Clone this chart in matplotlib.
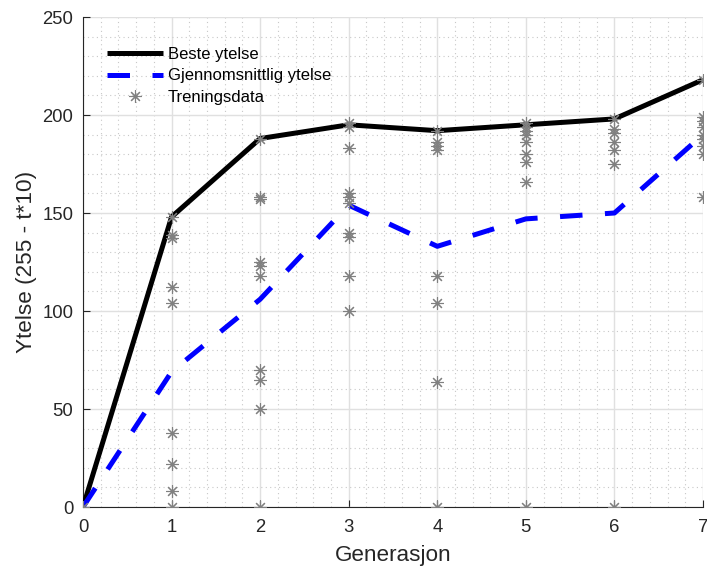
import matplotlib
matplotlib.use("Agg")
import matplotlib.pyplot as plt
from matplotlib.ticker import MultipleLocator

plt.rcParams['font.family'] = ['Liberation Sans', 'DejaVu Sans']

generations = [0, 1, 2, 3, 4, 5, 6, 7]
best = [0, 148, 188, 195, 192, 195, 198, 218]
mean = [0, 69, 106, 154, 133, 147, 150, 190]

train = {
    0: [0],
    1: [148, 139, 137, 112, 104, 38, 22, 8, 0],
    2: [188, 158, 157, 125, 123, 118, 70, 65, 50, 0],
    3: [196, 194, 183, 160, 158, 155, 140, 138, 118, 100],
    4: [192, 186, 184, 182, 118, 104, 64, 0],
    5: [196, 194, 192, 190, 186, 180, 176, 166, 0],
    6: [198, 193, 191, 186, 182, 175, 0],
    7: [218, 199, 197, 194, 190, 188, 184, 180, 158],
}

tx = [g for g, vals in train.items() for _ in vals]
ty = [v for vals in train.values() for v in vals]

fig = plt.figure(figsize=(7.07, 5.69), dpi=100)
ax = fig.add_axes([83/707, 1-507/569, 620/707, 490/569])

ax.plot(generations, best, color='black', lw=3.6, solid_capstyle='butt', label='Beste ytelse', zorder=3)
ax.plot(generations, mean, color='#0000ff', lw=3.6, dashes=(4.5, 4.5), label='Gjennomsnittlig ytelse', zorder=3)
ax.plot(tx, ty, ls='none', marker=(8, 2, 0), ms=9, mew=0.8, color='#808080', label='Treningsdata', zorder=4)

ax.set_xlim(0, 7)
ax.set_ylim(0, 250)
ax.xaxis.set_major_locator(MultipleLocator(1))
ax.yaxis.set_major_locator(MultipleLocator(50))
ax.xaxis.set_minor_locator(MultipleLocator(0.2))
ax.yaxis.set_minor_locator(MultipleLocator(10))
ax.grid(which='major', color='#e0e0e0', lw=1.0, ls='-', zorder=0)
ax.grid(which='minor', color='#c8c8c8', lw=0.8, ls=(0, (1, 3)), zorder=0)
ax.set_axisbelow(True)

for s in ['top', 'right']:
    ax.spines[s].set_visible(False)
for s in ['left', 'bottom']:
    ax.spines[s].set_color('#262626')
    ax.spines[s].set_linewidth(0.8)

ax.tick_params(which='major', direction='in', length=5, colors='#262626', labelsize=13.3)
ax.tick_params(which='minor', length=0)
ax.tick_params(axis='x', pad=9)
ax.tick_params(axis='y', pad=7)

ax.set_xlabel('Generasjon', fontsize=16.2, color='#262626', labelpad=6)
ax.set_ylabel('Ytelse (255 - t*10)', fontsize=16.2, color='#262626', labelpad=4)

leg = ax.legend(loc='upper left', bbox_to_anchor=(0.014, 0.97), frameon=False, fontsize=12,
                handlelength=3.4, labelspacing=0.4, handletextpad=0.25)

fig.savefig('out.png', dpi=100)
